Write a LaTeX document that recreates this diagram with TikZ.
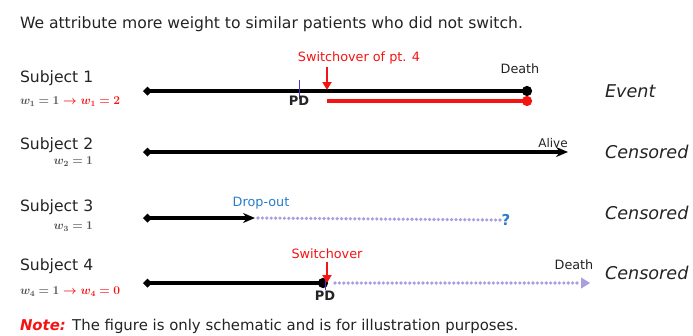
\documentclass[tikz,border=0pt]{standalone}
\usepackage[no-math]{fontspec}
\setmainfont{DejaVu Sans}
\usepackage{bm}
\usetikzlibrary{arrows.meta}
\definecolor{myred}{RGB}{245,20,20}
\definecolor{myblue}{RGB}{40,125,200}
\definecolor{lav}{RGB}{170,158,225}
\definecolor{wgrey}{RGB}{80,80,80}
\definecolor{txt}{RGB}{35,35,35}
\definecolor{pdtick}{RGB}{80,50,200}
\newcommand{\wt}[1]{\ensuremath{\bm{#1}}}
\begin{document}
\begin{tikzpicture}[x=1pt,y=-1pt,
  every node/.style={inner sep=0pt, outer sep=0pt, text=txt},
  big/.style={font=\fontsize{15.6}{18}\selectfont, anchor=base west},
  subj/.style={font=\fontsize{15.6}{18}\selectfont, anchor=west},
  wlab/.style={font=\fontsize{12}{13}\selectfont, text=wgrey},
  small/.style={font=\fontsize{12.8}{14}\selectfont},
  outcome/.style={font=\fontsize{17.6}{20}\selectfont\itshape, anchor=west},
  tl/.style={line width=3.2pt, black},
  redarr/.style={myred, line width=2.2pt, -{Triangle[length=8pt,width=9pt]}},
  dots/.style={lav, line width=3.6pt, line cap=round, dash pattern=on 0pt off 4.4pt},
]
\useasboundingbox (0,0) rectangle (693,335);

% title
\node[big] (title) at (20,28) {We attribute more weight to similar patients who did not switch.};

% ---- Subject 1
\node[subj] (sub1) at (20,78) {Subject 1};
\node[wlab, anchor=west] (w1) at (20,102) {\wt{w_1=1} {\color{myred}$\bm{\rightarrow}$ \wt{w_1=2}}};
\coordinate (s1a) at (143,91);
\coordinate (s1b) at (532,91);
\draw[tl, {Diamond[length=9pt,width=9pt]}-{Circle[length=10pt]}] (s1a) -- (s1b);
\coordinate (pd1t) at (299,80);
\coordinate (pd1b) at (299,99);
\draw[pdtick, line width=1pt] (pd1t) -- (pd1b);
\node[small, font=\fontsize{13}{14}\selectfont\bfseries] (pd1) at (299,101) {PD};
\coordinate (ra1t) at (327,67);
\coordinate (ra1b) at (327,90);
\draw[redarr] (ra1t) -- (ra1b);
\node[small, text=myred] (sw1) at (359,58) {Switchover of pt. 4};
\node[small] (death1) at (520,69) {Death};
\coordinate (r1a) at (327,101);
\coordinate (r1b) at (532,101);
\draw[myred, line width=3.2pt, -{Circle[length=10pt]}] (r1a) -- (r1b);
\node[outcome] (ev) at (605,91) {Event};

% ---- Subject 2
\node[subj] (sub2) at (20,145) {Subject 2};
\node[wlab, anchor=east] (w2) at (93,162) {\wt{w_2=1}};
\coordinate (s2a) at (143,152);
\coordinate (s2b) at (568,152);
\draw[tl, {Diamond[length=9pt,width=9pt]}-{Stealth[length=12pt,width=10pt]}] (s2a) -- (s2b);
\node[small, font=\fontsize{12}{13}\selectfont] (alive) at (553,143) {Alive};
\node[outcome] (c2) at (605,152) {Censored};

% ---- Subject 3
\node[subj] (sub3) at (20,207) {Subject 3};
\node[wlab, anchor=east] (w3) at (93,227) {\wt{w_3=1}};
\coordinate (s3a) at (143,218);
\coordinate (s3b) at (255,218);
\draw[tl, {Diamond[length=9pt,width=9pt]}-{Stealth[length=12pt,width=10pt]}] (s3a) -- (s3b);
\node[small, text=myblue] (drop) at (261,203) {Drop-out};
\node[text=myblue, font=\fontsize{15}{16}\selectfont\bfseries] (q) at (506,220) {?};
\coordinate (d3a) at (258,218);
\draw[dots] (d3a) -- ([xshift=-1pt]q.west);
\node[outcome] (c3) at (605,213) {Censored};

% ---- Subject 4
\node[subj] (sub4) at (20,266) {Subject 4};
\node[wlab, anchor=west] (w4) at (20,292) {\wt{w_4=1} {\color{myred}$\bm{\rightarrow}$ \wt{w_4=0}}};
\coordinate (s4a) at (143,283);
\coordinate (s4b) at (328,283);
\draw[tl, {Diamond[length=9pt,width=9pt]}-{Circle[length=10pt]}] (s4a) -- (s4b);
\coordinate (pd4t) at (325,276);
\coordinate (pd4b) at (325,290);
\draw[pdtick, line width=1pt] (pd4t) -- (pd4b);
\coordinate (ra4t) at (327,262);
\coordinate (ra4b) at (327,283);
\draw[redarr] (ra4t) -- (ra4b);
\node[small, text=myred] (sw4) at (327,254) {Switchover};
\node[small, font=\fontsize{13}{14}\selectfont\bfseries] (pd4) at (325,296) {PD};
\coordinate (d4a) at (335,283);
\coordinate (d4b) at (590,283);
\draw[dots] (d4a) -- ([xshift=-9pt]d4b);
\draw[lav, line width=1pt, -{Triangle[length=9pt,width=11pt]}] ([xshift=-8pt]d4b) -- (d4b);
\node[small] (death4) at (574,265) {Death};
\node[outcome] (c4) at (605,273) {Censored};

% note
\node[big, font=\fontsize{14.9}{18}\selectfont, anchor=base west] (note) at (20,330) {\textcolor{myred}{\bfseries\itshape Note:} The figure is only schematic and is for illustration purposes.};
\end{tikzpicture}
\end{document}
